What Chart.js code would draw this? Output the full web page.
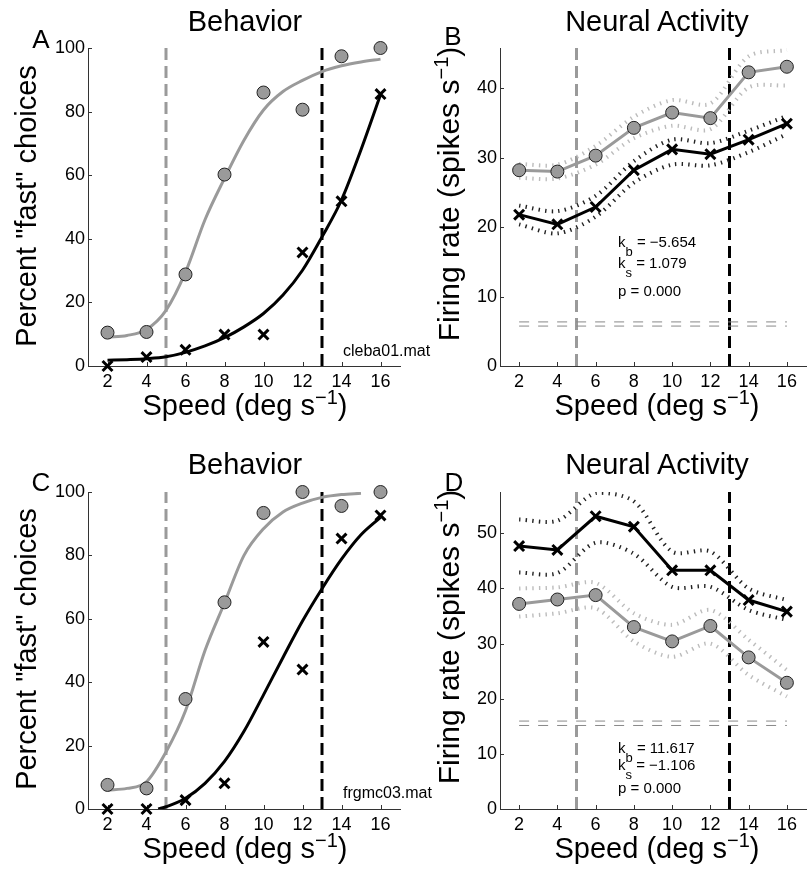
<!DOCTYPE html>
<html><head><meta charset="utf-8">
<script src="https://cdn.jsdelivr.net/npm/chart.js@4/dist/chart.umd.min.js"></script>
<style>
html,body{margin:0;padding:0;background:#fff;overflow:hidden;width:809px;height:884px;}
body{position:relative;font-family:"Liberation Sans",Arial,Helvetica,sans-serif;color:#000;}
canvas{position:absolute;}
.t{position:absolute;white-space:nowrap;line-height:1;}
.c{transform:translate(-50%,-50%);}
.r{transform:translate(-50%,-50%) rotate(-90deg);}
.big{font-size:29px;}
.fr{font-size:30px;}
.sup{position:relative;top:-11px;font-size:20px;}
.ann{font-size:15px;}
.sub{position:relative;top:9px;font-size:13px;}
.file{font-size:16px;}
.letter{font-size:26px;}
</style></head><body>
<canvas id="pA" width="410" height="443" style="left:0;top:0"></canvas>
<canvas id="pB" width="406" height="443" style="left:410px;top:0"></canvas>
<canvas id="pC" width="410" height="441" style="left:0;top:443px"></canvas>
<canvas id="pD" width="406" height="441" style="left:410px;top:443px"></canvas>

<div class="t c big" style="left:245px;top:21px">Behavior</div>
<div class="t c big" style="left:657px;top:21px">Neural Activity</div>
<div class="t c big" style="left:245px;top:464px">Behavior</div>
<div class="t c big" style="left:657px;top:464px">Neural Activity</div>

<div class="t c big" style="left:245px;top:405px">Speed (deg s<span class="sup">−1</span>)</div>
<div class="t c big" style="left:657px;top:405px">Speed (deg s<span class="sup">−1</span>)</div>
<div class="t c big" style="left:245px;top:848px">Speed (deg s<span class="sup">−1</span>)</div>
<div class="t c big" style="left:657px;top:848px">Speed (deg s<span class="sup">−1</span>)</div>

<div class="t r big" style="left:26px;top:206px">Percent "fast" choices</div>
<div class="t r big" style="left:26px;top:649px">Percent "fast" choices</div>
<div class="t r fr" style="left:449px;top:194px">Firing rate (spikes s<span class="sup">−1</span>)</div>
<div class="t r fr" style="left:449px;top:637px">Firing rate (spikes s<span class="sup">−1</span>)</div>

<div class="t c letter" style="left:41px;top:39px">A</div>
<div class="t c letter" style="left:453px;top:36px">B</div>
<div class="t c letter" style="left:41px;top:482px">C</div>
<div class="t c letter" style="left:454px;top:482px">D</div>

<div class="t file" style="left:343px;top:343px">cleba01.mat</div>
<div class="t file" style="left:343px;top:785px">frgmc03.mat</div>

<div class="t ann" style="left:618px;top:234px">k<span class="sub">b</span> = −5.654</div>
<div class="t ann" style="left:618px;top:255px">k<span class="sub">s</span> = 1.079</div>
<div class="t ann" style="left:618px;top:283px">p = 0.000</div>
<div class="t ann" style="left:618px;top:740px">k<span class="sub">b</span> = 11.617</div>
<div class="t ann" style="left:618px;top:757px">k<span class="sub">s</span> = −1.106</div>
<div class="t ann" style="left:618px;top:780px">p = 0.000</div>

<script>
// ---------- data ----------
const speeds = [2, 4, 6, 8, 10, 12, 14, 16];
const xTicks = [2, 4, 6, 8, 10, 12, 14, 16];
const yTicksBehavior = [0, 20, 40, 60, 80, 100];
const yTicksB = [0, 10, 20, 30, 40];
const yTicksD = [0, 10, 20, 30, 40, 50];
const criterionLow = 5;    // gray dashed vertical line
const criterionHigh = 13;  // black dashed vertical line

// Panel A (behavior, cleba01)
const aCircles = [10.5, 10.7, 28.8, 60.2, 86.0, 80.6, 97.4, 100];
const aCrosses = [0, 2.8, 5.1, 9.9, 9.9, 35.7, 51.8, 85.5];
const aFitX = [2, 3, 4, 5, 6, 7, 8, 9, 10, 11, 12, 13, 14, 15, 16];
const aFitGray = [9.1, 9.6, 11.5, 17.5, 29.5, 46.0, 59.0, 71.0, 80.5, 86.3, 89.8, 92.6, 94.4, 95.6, 96.5];
const aFitBlack = [1.8, 2.0, 2.3, 2.9, 4.3, 6.3, 8.9, 12.3, 16.5, 22.3, 30.1, 40.6, 52.2, 68.0, 85.3];

// Panel B (neural, cleba01)
const bCircles = [28.2, 28.0, 30.3, 34.3, 36.5, 35.7, 42.3, 43.1];
const bCirclesUpper = [29.1, 29.0, 31.7, 35.9, 38.3, 37.8, 44.6, 45.5];
const bCirclesLower = [27.1, 27.0, 29.0, 32.8, 34.6, 34.1, 40.1, 40.4];
const bCrosses = [21.8, 20.4, 22.9, 28.2, 31.2, 30.5, 32.6, 34.9];
const bCrossesUpper = [23.1, 22.3, 24.5, 29.5, 32.6, 32.1, 33.9, 36.0];
const bCrossesLower = [20.4, 19.1, 21.5, 26.4, 29.0, 28.9, 30.8, 33.4];
const bBaseline = [6.35, 5.75];

// Panel C (behavior, frgmc03)
const cCircles = [7.6, 6.5, 34.7, 65.2, 93.4, 100, 95.6, 100];
const cCrosses = [0, 0, 2.8, 8.1, 52.7, 44.0, 85.3, 92.6];
const cFitGrayX = [2, 3, 4, 5, 6, 7, 8, 9, 10, 11, 12, 13, 14, 15];
const cFitGray = [6.0, 6.5, 8.6, 18.0, 31.0, 50.0, 65.0, 80.0, 88.4, 93.7, 96.5, 98.3, 99.2, 99.6];
const cFitBlackX = [4.6, 5, 6, 7, 8, 9, 10, 11, 12, 13, 14, 15, 16];
const cFitBlack = [0, 0.7, 3.4, 8.1, 15.0, 24.5, 36.0, 47.8, 59.3, 69.5, 78.8, 86.5, 92.0];

// Panel D (neural, frgmc03)
const dCrosses = [47.7, 47.0, 53.1, 51.2, 43.3, 43.3, 37.9, 35.8];
const dCrossesUpper = [52.5, 52.3, 57.3, 55.8, 46.7, 46.7, 40.0, 37.9];
const dCrossesLower = [42.9, 42.8, 48.3, 46.3, 40.3, 40.3, 36.1, 34.3];
const dCircles = [37.2, 38.0, 38.8, 33.0, 30.4, 33.2, 27.5, 22.9];
const dCirclesUpper = [40.0, 40.2, 41.0, 35.5, 33.4, 36.1, 30.7, 25.2];
const dCirclesLower = [34.9, 35.5, 36.4, 30.4, 27.6, 30.0, 24.3, 20.4];
const dBaseline = [15.95, 15.15];

// ---------- helpers ----------
const FONT = '"Liberation Sans", Arial, Helvetica, sans-serif';
const GRAY = '#9a9a9a';
const BAND_GRAY = '#bcbcbc';
const pts = (xs, ys) => xs.map((x, i) => ({x, y: ys[i]}));

function circles(ys, line) {
  return {data: pts(speeds, ys), showLine: !!line, borderColor: GRAY, borderWidth: 3,
    pointStyle: 'circle', pointRadius: 6.5, pointBackgroundColor: GRAY,
    pointBorderColor: '#222', pointBorderWidth: 1, clip: false, tension: 0};
}
function crosses(ys, line) {
  return {data: pts(speeds, ys), showLine: !!line, borderColor: '#000', borderWidth: 3,
    pointStyle: 'crossRot', pointRadius: 7, pointBorderColor: '#000', pointBorderWidth: 3,
    pointBackgroundColor: '#000', clip: false, tension: 0};
}
function curve(xs, ys, color) {
  return {data: pts(xs, ys), borderColor: color, borderWidth: 3, pointRadius: 0,
    tension: 0.4, cubicInterpolationMode: 'monotone', fill: false};
}
function band(ys, color) {
  return {data: pts(speeds, ys), borderColor: color, borderWidth: 4, borderDash: [1.4, 5.2],
    borderCapStyle: 'butt', pointRadius: 0, tension: 0.3, fill: false};
}
function vline(x, ymax, color) {
  return {data: [{x, y: 0}, {x, y: ymax}], borderColor: color, borderWidth: 3,
    borderDash: [12, 6], borderCapStyle: 'butt', pointRadius: 0, tension: 0};
}
function hline(y) {
  return {data: [{x: xTicks[0], y}, {x: xTicks[xTicks.length - 1], y}], borderColor: '#888',
    borderWidth: 1, borderDash: [10, 9], pointRadius: 0, tension: 0};
}

const inwardTicks = {
  id: 'inwardTicks',
  beforeDatasetsDraw(chart) {
    const ctx = chart.ctx, a = chart.chartArea;
    const xs = chart.scales.x, ys = chart.scales.y;
    ctx.save();
    ctx.strokeStyle = '#333';
    ctx.lineWidth = 1;
    ctx.beginPath();
    xs.ticks.forEach(t => {
      const px = Math.round(xs.getPixelForValue(t.value)) + 0.5;
      ctx.moveTo(px, a.bottom); ctx.lineTo(px, a.bottom - 4);
    });
    ys.ticks.forEach(t => {
      const py = Math.round(ys.getPixelForValue(t.value)) + 0.5;
      ctx.moveTo(a.left, py); ctx.lineTo(a.left + 4, py);
    });
    ctx.stroke();
    ctx.restore();
  }
};

function makePanel(id, o) {
  new Chart(document.getElementById(id), {
    type: 'line',
    data: {datasets: o.datasets},
    options: {
      responsive: false, animation: false, events: [],
      layout: {padding: {left: 0, right: o.padRight, top: o.padTop, bottom: 0}},
      plugins: {legend: {display: false}, tooltip: {enabled: false}},
      scales: {
        x: {type: 'linear', min: 1, max: 17,
          grid: {display: false, drawTicks: false},
          border: {display: true, color: '#333', width: 1},
          afterBuildTicks: s => { s.ticks = xTicks.map(v => ({value: v})); },
          afterFit: s => { s.height = o.xAxisH; },
          ticks: {font: {family: FONT, size: 18}, color: '#000', padding: 5, maxRotation: 0, autoSkip: false}},
        y: {type: 'linear', min: 0, max: o.ymax,
          grid: {display: false, drawTicks: false},
          border: {display: true, color: '#333', width: 1},
          afterBuildTicks: s => { s.ticks = o.yTicks.map(v => ({value: v})); },
          afterFit: s => { s.width = o.yAxisW; },
          ticks: {font: {family: FONT, size: 18}, color: '#000', padding: 3, autoSkip: false}}
      }
    },
    plugins: [inwardTicks]
  });
}

makePanel('pA', {padTop: 48, padRight: 8, xAxisH: 77, yAxisW: 88, ymax: 100, yTicks: yTicksBehavior,
  datasets: [
    circles(aCircles, false), crosses(aCrosses, false),
    curve(aFitX, aFitGray, GRAY), curve(aFitX, aFitBlack, '#000'),
    vline(criterionLow, 100, GRAY), vline(criterionHigh, 100, '#000')
  ]});

makePanel('pB', {padTop: 48, padRight: 3, xAxisH: 77, yAxisW: 90, ymax: 45.8, yTicks: yTicksB,
  datasets: [
    circles(bCircles, true), crosses(bCrosses, true),
    band(bCirclesUpper, BAND_GRAY), band(bCirclesLower, BAND_GRAY),
    band(bCrossesUpper, '#222'), band(bCrossesLower, '#222'),
    hline(bBaseline[0]), hline(bBaseline[1]),
    vline(criterionLow, 45.8, GRAY), vline(criterionHigh, 45.8, '#000')
  ]});

makePanel('pC', {padTop: 49, padRight: 8, xAxisH: 75, yAxisW: 88, ymax: 100, yTicks: yTicksBehavior,
  datasets: [
    circles(cCircles, false), crosses(cCrosses, false),
    curve(cFitGrayX, cFitGray, GRAY), curve(cFitBlackX, cFitBlack, '#000'),
    vline(criterionLow, 100, GRAY), vline(criterionHigh, 100, '#000')
  ]});

makePanel('pD', {padTop: 49, padRight: 3, xAxisH: 75, yAxisW: 90, ymax: 57.5, yTicks: yTicksD,
  datasets: [
    crosses(dCrosses, true), circles(dCircles, true),
    band(dCrossesUpper, '#222'), band(dCrossesLower, '#222'),
    band(dCirclesUpper, BAND_GRAY), band(dCirclesLower, BAND_GRAY),
    hline(dBaseline[0]), hline(dBaseline[1]),
    vline(criterionLow, 57.5, GRAY), vline(criterionHigh, 57.5, '#000')
  ]});
</script>
</body></html>
